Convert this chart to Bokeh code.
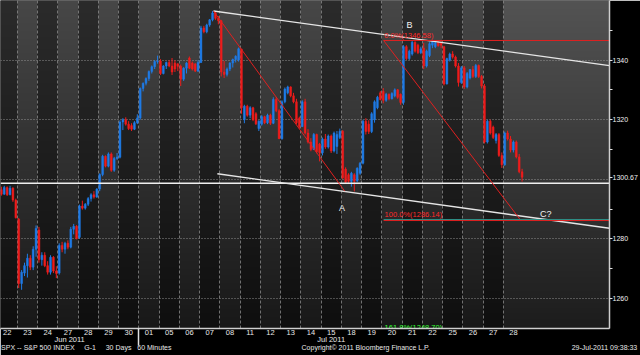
import numpy as np
from bokeh.plotting import figure
from bokeh.models import FixedTicker, ColumnDataSource, LinearAxis
from bokeh.core.properties import value
from bokeh.embed import file_html
from bokeh.resources import INLINE

# ---------------- data ----------------
day_labels = ["22", "23", "24", "27", "28", "29", "30", "01", "05", "06", "07", "08", "11",
              "12", "13", "14", "15", "18", "19", "20", "21", "22", "25", "26", "27", "28"]
month_labels = ["Jun 2011", "Jul 2011"]
month_first_day = [0, 7]          # index of first trading day of each month
bars_per_day = 7                  # 60-minute bars

# hourly OHLC, 7 bars per day, Jun 22 .. Jul 28 2011
bar_open = [
    1296.0, 1296.5, 1295.0, 1297.2, 1294.8, 1297.0, 1293.0,
    1286.6, 1265.0, 1268.5, 1271.0, 1273.5, 1270.5, 1276.5,
    1283.0, 1273.0, 1274.5, 1271.0, 1268.8, 1273.8, 1269.2,
    1268.5, 1277.8, 1276.5, 1278.5, 1277.2, 1283.2, 1284.2,
    1280.5, 1291.0, 1290.3, 1291.6, 1293.5, 1294.8, 1294.0,
    1296.7, 1301.6, 1307.7, 1304.4, 1308.5, 1303.0, 1307.0,
    1307.4, 1319.2, 1320.0, 1318.5, 1318.0, 1316.8, 1319.0,
    1320.6, 1330.5, 1332.2, 1333.8, 1336.2, 1337.8, 1339.5,
    1339.7, 1335.5, 1338.0, 1339.2, 1338.0, 1339.0, 1338.7,
    1337.9, 1333.6, 1337.3, 1340.7, 1339.0, 1338.7, 1336.3,
    1339.2, 1350.8, 1349.5, 1351.8, 1353.5, 1355.8, 1354.0,
    1353.2, 1336.0, 1335.2, 1337.0, 1339.0, 1340.2, 1340.0,
    1343.7, 1320.0, 1324.5, 1321.5, 1324.0, 1322.0, 1317.0,
    1318.5, 1321.0, 1319.0, 1321.5, 1318.8, 1326.8, 1323.0,
    1313.6, 1326.0, 1329.0, 1331.0, 1328.0, 1326.0, 1320.5,
    1317.7, 1326.0, 1315.5, 1312.5, 1310.0, 1315.0, 1311.8,
    1308.9, 1313.5, 1310.8, 1314.5, 1309.5, 1311.0, 1314.0,
    1316.1, 1303.4, 1301.5, 1299.3, 1301.5, 1299.5, 1302.0,
    1305.4, 1319.5, 1318.5, 1316.0, 1320.0, 1324.0, 1329.0,
    1329.5, 1326.5, 1328.5, 1327.0, 1328.0, 1330.0, 1328.5,
    1325.8, 1344.5, 1340.5, 1342.0, 1346.0, 1345.0, 1342.5,
    1344.0, 1338.0, 1341.5, 1345.0, 1344.5, 1346.0, 1346.0,
    1344.5, 1332.0, 1340.0, 1342.0, 1341.0, 1338.0, 1332.5,
    1337.4, 1331.0, 1334.0, 1336.8, 1334.5, 1338.2, 1334.5,
    1331.3, 1312.5, 1319.5, 1317.5, 1313.0, 1315.0, 1308.0,
    1304.9, 1315.5, 1313.5, 1309.8, 1312.5, 1307.5, 1302.5,
]
bar_high = [
    1297.0, 1297.5, 1297.8, 1297.6, 1297.8, 1297.3, 1293.5,
    1287.0, 1269.5, 1272.0, 1275.0, 1274.5, 1277.5, 1284.5,
    1284.0, 1275.5, 1275.5, 1272.5, 1274.5, 1274.2, 1270.8,
    1278.5, 1279.0, 1279.0, 1279.5, 1284.0, 1285.0, 1284.6,
    1291.5, 1292.8, 1292.0, 1294.0, 1295.3, 1296.0, 1297.0,
    1302.0, 1308.2, 1308.0, 1309.0, 1309.0, 1307.5, 1308.8,
    1319.8, 1320.5, 1320.8, 1319.5, 1318.8, 1319.5, 1321.8,
    1330.8, 1332.5, 1334.2, 1336.5, 1338.2, 1340.0, 1341.5,
    1340.3, 1338.3, 1339.5, 1340.0, 1340.7, 1340.0, 1339.0,
    1338.5, 1337.6, 1339.3, 1341.2, 1339.5, 1339.0, 1340.0,
    1351.5, 1351.5, 1352.2, 1353.8, 1356.5, 1356.3, 1354.8,
    1353.5, 1339.7, 1337.5, 1339.3, 1340.5, 1341.6, 1344.2,
    1343.8, 1325.0, 1325.0, 1324.5, 1324.3, 1322.5, 1319.8,
    1321.5, 1321.3, 1322.0, 1322.0, 1327.5, 1327.5, 1323.5,
    1326.5, 1330.8, 1331.4, 1331.2, 1329.0, 1327.0, 1321.0,
    1326.5, 1327.0, 1316.8, 1313.8, 1315.5, 1315.3, 1312.2,
    1314.0, 1315.2, 1315.0, 1315.0, 1316.0, 1316.2, 1317.0,
    1316.5, 1304.0, 1302.0, 1302.5, 1302.0, 1304.0, 1305.8,
    1320.0, 1320.5, 1319.8, 1322.5, 1326.5, 1328.0, 1329.6,
    1330.6, 1329.0, 1328.8, 1329.2, 1330.5, 1330.3, 1328.8,
    1345.0, 1345.0, 1343.5, 1346.4, 1346.3, 1345.5, 1344.5,
    1345.8, 1343.5, 1346.0, 1346.6, 1346.2, 1346.3, 1346.2,
    1344.8, 1340.8, 1342.5, 1343.0, 1341.5, 1339.0, 1338.0,
    1338.0, 1336.0, 1337.0, 1338.0, 1338.7, 1338.5, 1335.0,
    1332.0, 1320.0, 1320.0, 1318.0, 1315.5, 1315.5, 1309.0,
    1316.0, 1316.3, 1314.5, 1313.0, 1313.0, 1308.5, 1303.5,
]
bar_low = [
    1295.0, 1294.5, 1294.8, 1294.4, 1294.6, 1292.4, 1286.8,
    1263.5, 1262.9, 1267.5, 1267.0, 1269.5, 1269.5, 1274.0,
    1272.0, 1271.0, 1270.5, 1268.0, 1268.0, 1268.5, 1266.8,
    1268.0, 1275.5, 1275.0, 1276.5, 1276.8, 1281.5, 1279.8,
    1280.0, 1289.8, 1289.8, 1291.0, 1292.5, 1293.5, 1293.8,
    1296.0, 1301.0, 1304.0, 1304.0, 1302.5, 1302.5, 1306.5,
    1307.0, 1316.5, 1318.0, 1316.5, 1316.2, 1316.5, 1318.5,
    1320.0, 1329.5, 1331.5, 1333.0, 1335.5, 1337.0, 1338.8,
    1335.0, 1335.2, 1337.0, 1337.6, 1335.0, 1336.0, 1336.3,
    1331.3, 1333.0, 1335.5, 1337.0, 1336.5, 1336.0, 1336.0,
    1339.0, 1349.0, 1349.0, 1351.2, 1353.0, 1353.5, 1352.0,
    1334.5, 1334.0, 1334.5, 1336.3, 1337.5, 1339.2, 1339.5,
    1322.0, 1318.8, 1321.0, 1320.5, 1319.5, 1318.2, 1316.2,
    1318.0, 1318.5, 1318.5, 1318.2, 1318.5, 1322.5, 1313.5,
    1313.3, 1325.5, 1328.5, 1327.5, 1325.5, 1318.5, 1317.0,
    1317.5, 1315.0, 1312.0, 1309.4, 1309.8, 1308.7, 1306.0,
    1308.0, 1310.2, 1310.3, 1308.8, 1309.0, 1308.5, 1313.5,
    1300.0, 1298.5, 1298.8, 1297.5, 1295.9, 1299.0, 1301.5,
    1305.0, 1315.0, 1315.2, 1315.5, 1319.0, 1323.5, 1326.5,
    1325.5, 1326.0, 1326.5, 1326.8, 1327.5, 1327.0, 1325.0,
    1325.0, 1340.0, 1340.0, 1341.5, 1342.5, 1342.0, 1342.0,
    1337.0, 1337.5, 1341.0, 1344.0, 1344.0, 1344.5, 1344.0,
    1331.5, 1331.8, 1339.5, 1340.5, 1337.5, 1331.1, 1332.0,
    1330.3, 1330.5, 1333.5, 1334.0, 1334.0, 1334.0, 1330.5,
    1312.0, 1312.0, 1315.0, 1313.5, 1312.0, 1307.5, 1303.8,
    1304.5, 1313.0, 1309.0, 1309.0, 1307.0, 1302.0, 1299.2,
]
bar_close = [
    1296.5, 1295.0, 1297.2, 1294.8, 1297.0, 1293.0, 1287.1,
    1265.0, 1268.8, 1271.0, 1273.5, 1270.5, 1276.5, 1283.5,
    1273.0, 1274.5, 1271.0, 1268.8, 1273.8, 1269.2, 1268.4,
    1277.8, 1276.5, 1278.5, 1277.2, 1283.2, 1284.2, 1280.1,
    1291.0, 1290.3, 1291.6, 1293.5, 1294.8, 1294.0, 1296.7,
    1301.6, 1307.7, 1304.4, 1308.5, 1303.0, 1307.0, 1307.4,
    1319.2, 1320.0, 1318.5, 1317.0, 1316.8, 1319.0, 1320.6,
    1330.5, 1332.2, 1333.8, 1336.2, 1337.8, 1339.5, 1339.7,
    1335.5, 1338.0, 1339.2, 1338.0, 1336.0, 1337.0, 1337.9,
    1333.6, 1337.3, 1339.0, 1337.3, 1337.0, 1336.3, 1339.2,
    1350.8, 1349.5, 1351.8, 1353.5, 1355.8, 1354.0, 1353.2,
    1336.0, 1335.2, 1337.0, 1339.0, 1340.2, 1341.3, 1343.8,
    1324.0, 1324.5, 1321.5, 1324.0, 1320.0, 1318.6, 1319.5,
    1321.0, 1319.0, 1321.5, 1318.8, 1326.8, 1323.0, 1313.6,
    1326.0, 1330.3, 1331.0, 1328.0, 1326.0, 1319.0, 1317.7,
    1326.0, 1315.5, 1312.5, 1310.0, 1315.0, 1309.2, 1308.9,
    1313.5, 1310.8, 1314.5, 1309.5, 1315.5, 1315.0, 1316.1,
    1300.5, 1299.0, 1299.3, 1302.0, 1299.3, 1303.7, 1305.4,
    1319.5, 1316.0, 1316.0, 1322.0, 1326.0, 1327.5, 1326.7,
    1326.5, 1328.5, 1327.0, 1328.8, 1330.0, 1327.5, 1325.8,
    1344.5, 1340.5, 1343.0, 1346.0, 1343.0, 1342.5, 1343.8,
    1338.0, 1343.0, 1345.5, 1346.2, 1345.8, 1344.8, 1345.0,
    1332.0, 1340.5, 1342.0, 1341.0, 1338.0, 1332.5, 1337.4,
    1331.0, 1335.5, 1336.8, 1334.5, 1338.2, 1334.5, 1331.3,
    1312.5, 1319.5, 1315.5, 1314.0, 1315.0, 1308.0, 1304.9,
    1315.5, 1313.5, 1309.8, 1312.5, 1307.5, 1302.5, 1300.7,
]
last_price = 1300.67

# drawn analysis (x in trading-day units, y in index points)
upper_channel_x = [10.69, 30.245]
upper_channel_y = [1356.47, 1338.15]
lower_channel_x = [10.88, 30.245]
lower_channel_y = [1301.85, 1283.53]
swing_line_x = [10.69, 17.17]            # Jul 7 high -> A
swing_line_y = [1356.47, 1296.0]
projection_x = [19.09, 25.87]            # B -> 100 % projection (C?)
projection_y = [1346.58, 1286.14]
fib_start_x = 19.09
fib_levels = [1346.58, 1286.14, 1248.70]
fib_texts = ["0.0%(1346.58)", "100.0%(1286.14)", "161.8%(1248.70)"]
support_level = 1298.65
wave_labels = ["A", "B", "C?"]
wave_x = [17.03, 20.37, 27.10]
wave_y = [1290.3, 1351.8, 1288.2]

price_ticks = [1260, 1280, 1320, 1340]
price_minor = [1270, 1290, 1310, 1330, 1350]
grid_prices = [1260, 1280, 1300, 1320, 1340]

NB = "\u00a0"
footer_texts = ["SPX" + NB + "--" + NB + "S&P" + NB + "500" + NB + "INDEX" + NB * 5 + "G-1"
                + NB * 5 + "30" + NB + "Days" + NB * 3 + "60" + NB + "Minutes",
                "Copyright\u00a9 2011 Bloomberg Finance L.P.",
                "29-Jul-2011 09:38:33"]

# ---------------- figure ----------------
x_start, x_end = 0.172, 30.245
y_start, y_end = 1249.9, 1360.0
FONT = "Liberation Sans"
FRAME_W = 612
n_days = len(day_labels)


def px_to_x(px):
    return x_start + px / FRAME_W * (x_end - x_start)


_cw = {' ': .278, NB: .278, '-': .333, 'i': .222, 'l': .222, 'I': .278, 't': .278, 'f': .278,
       'r': .333, '.': .278, ':': .278, '(': .333, ')': .333, 'S': .667, 'P': .667,
       'X': .667, '&': .667, 'N': .722, 'D': .722, 'E': .667, 'G': .778, 'M': .833,
       'B': .667, 'C': .722, 'L': .556, 'J': .5, 'm': .833, 'y': .5, 's': .5, 'c': .5,
       'k': .5, 'o': .556, 'g': .556, '\u00a9': .737}


def text_w(s, size):
    return sum(_cw.get(ch, .556) for ch in s) * size


p = figure(width=640, height=355, x_range=(x_start, x_end), y_range=(y_start, y_end),
           output_backend="svg", toolbar_location=None, y_axis_location="right",
           min_border_left=0, min_border_top=0, min_border_right=28, min_border_bottom=27)
p.background_fill_color = "#000000"
p.border_fill_color = "#000000"
p.outline_line_color = None

# background stripes (alternate trading days) + empty future area
sl, sr, sc = [], [], []
for i in range(n_days - 1):
    sl.append(i)
    sr.append(i + 1)
    sc.append("#474747" if i % 2 else "#2b2b2b")
sl.append(n_days - 1)
sr.append(x_end + 1)
sc.append("#535353")
p.quad(left=sl, right=sr, bottom=y_start - 50, top=y_end + 50, fill_color=sc,
       line_color=None, level="image")

# vertical darkening gradient
rows = 164
alpha = np.linspace(0.66, 0.0, rows)
img = np.zeros((rows, 1), dtype=np.uint32)
view = img.view(dtype=np.uint8).reshape((rows, 1, 4))
view[:, 0, 3] = (alpha * 255).astype(np.uint8)
p.image_rgba(image=[img], x=x_start, y=y_start, dw=x_end - x_start, dh=y_end - y_start,
             level="image")

# grids
p.xgrid.ticker = FixedTicker(ticks=list(range(1, n_days)))
p.xgrid.grid_line_color = "#8a8a8a"
p.xgrid.grid_line_dash = "3 2"
p.xgrid.grid_line_alpha = 0.8
p.ygrid.ticker = FixedTicker(ticks=grid_prices)
p.ygrid.grid_line_color = "#9a9a9a"
p.ygrid.grid_line_dash = "1 2"
p.ygrid.grid_line_alpha = 0.9

# candles
o = np.array(bar_open)
h = np.array(bar_high)
l = np.array(bar_low)
c = np.array(bar_close)
idx = np.arange(len(o))
bx = idx // bars_per_day + (idx % bars_per_day + 0.5) / bars_per_day
colors = np.where(c >= o, "#1f7be6", "#ee1c1c")
src = ColumnDataSource(dict(x=bx, high=h, low=l, top=np.maximum(o, c),
                            bottom=np.minimum(o, c), color=colors))
p.segment(x0="x", y0="high", x1="x", y1="low", line_color="color", line_width=1, source=src)
p.vbar(x="x", width=0.62 / bars_per_day, top="top", bottom="bottom", fill_color="color",
       line_color="color", line_width=0.5, source=src)

# analysis lines
p.line([x_start, x_end], [support_level, support_level], line_color="#f0f0f0", line_width=1.6)
p.line(upper_channel_x, upper_channel_y, line_color="#e6e6e6", line_width=1.4)
p.line(lower_channel_x, lower_channel_y, line_color="#e6e6e6", line_width=1.4)
p.line(swing_line_x, swing_line_y, line_color="#e02020", line_width=1)
p.line(projection_x, projection_y, line_color="#e02020", line_width=1)
p.line([fib_start_x, x_end], [fib_levels[1] + 0.35, fib_levels[1] + 0.35],
       line_color="#2f8f86", line_width=1)
for lv, col in zip(fib_levels, ["#e02020", "#e02020", "#22dd22"]):
    p.line([fib_start_x, x_end], [lv, lv], line_color=col, line_width=1)

p.text(x=[fib_start_x + 0.03, fib_start_x + 0.05], y=[fib_levels[0] + 0.3, fib_levels[1] + 0.45],
       text=fib_texts[:2], text_color="#ff2a2a", text_font=value(FONT),
       text_font_size="7.5px", text_baseline="bottom", text_align="left")
p.text(x=[fib_start_x + 0.05], y=[1251.9], text=[fib_texts[2]], text_color="#33ff33",
       text_font=value(FONT), text_font_size="7.5px", text_baseline="top", text_align="left")
p.text(x=wave_x, y=wave_y, text=wave_labels, text_color="#f2f2f2", text_font=value(FONT),
       text_font_size="9px", text_baseline="middle", text_align="center")

# ---- day axis (first below axis) ----
xa = p.xaxis[0]
centers = [i + 0.5 for i in range(n_days)]
xa.ticker = FixedTicker(ticks=centers, minor_ticks=[float(month_first_day[1])])
xa.major_label_overrides = {cc: lab for cc, lab in zip(centers, day_labels)}
xa.major_tick_line_color = None
xa.major_tick_in = 0
xa.major_tick_out = 0
xa.minor_tick_line_color = "#e0e0e0"
xa.minor_tick_line_width = 1.5
xa.minor_tick_in = 0
xa.minor_tick_out = 17
xa.axis_line_color = "#cfcfcf"
xa.axis_line_width = 1.5
xa.major_label_standoff = -16
xa.major_label_text_color = "#e8e8e8"
xa.major_label_text_font = FONT
xa.major_label_text_font_size = "7.5px"

# ---- month axis ----
month_end = [month_first_day[1], n_days]
month_mid = [(max(month_first_day[0], x_start) + month_end[0]) / 2,
             (month_first_day[1] + month_end[1]) / 2]
ma = LinearAxis(ticker=FixedTicker(ticks=month_mid, minor_ticks=[]),
                major_label_overrides={m: t for m, t in zip(month_mid, month_labels)})
# ---- footer axis ----
fsize = 7.0
fw = [text_w(t, fsize) for t in footer_texts]
foot_pos = [px_to_x(1 + fw[0] / 2), px_to_x(367), px_to_x(640 - fw[2] / 2)]
fa = LinearAxis(ticker=FixedTicker(ticks=foot_pos, minor_ticks=[]),
                major_label_overrides={f: t for f, t in zip(foot_pos, footer_texts)})
for ax, fs in ((ma, "7.5px"), (fa, f"{fsize}px")):
    ax.axis_line_color = None
    ax.major_tick_line_color = None
    ax.minor_tick_line_color = None
    ax.major_tick_in = 0
    ax.major_tick_out = 0
    ax.minor_tick_in = 0
    ax.minor_tick_out = 0
    ax.major_label_standoff = -3
    ax.major_label_text_color = "#e8e8e8"
    ax.major_label_text_font = FONT
    ax.major_label_text_font_size = fs
    p.add_layout(ax, "below")

# ---- price axis (right) ----
ya = p.yaxis[0]
ya.ticker = FixedTicker(ticks=price_ticks + [last_price], minor_ticks=price_minor)
ya.major_label_overrides = {last_price: f"{last_price:.2f}"}
ya.axis_line_color = "#cfcfcf"
ya.axis_line_width = 1.5
ya.major_tick_line_color = "#e0e0e0"
ya.minor_tick_line_color = "#e0e0e0"
ya.major_tick_in = 0
ya.major_tick_out = 3
ya.minor_tick_in = 0
ya.minor_tick_out = 3
ya.major_label_standoff = 0
ya.major_label_text_color = "#f0f0f0"
ya.major_label_text_font = FONT
ya.major_label_text_font_size = "7px"

open("out.html", "w").write(file_html(p, INLINE))
